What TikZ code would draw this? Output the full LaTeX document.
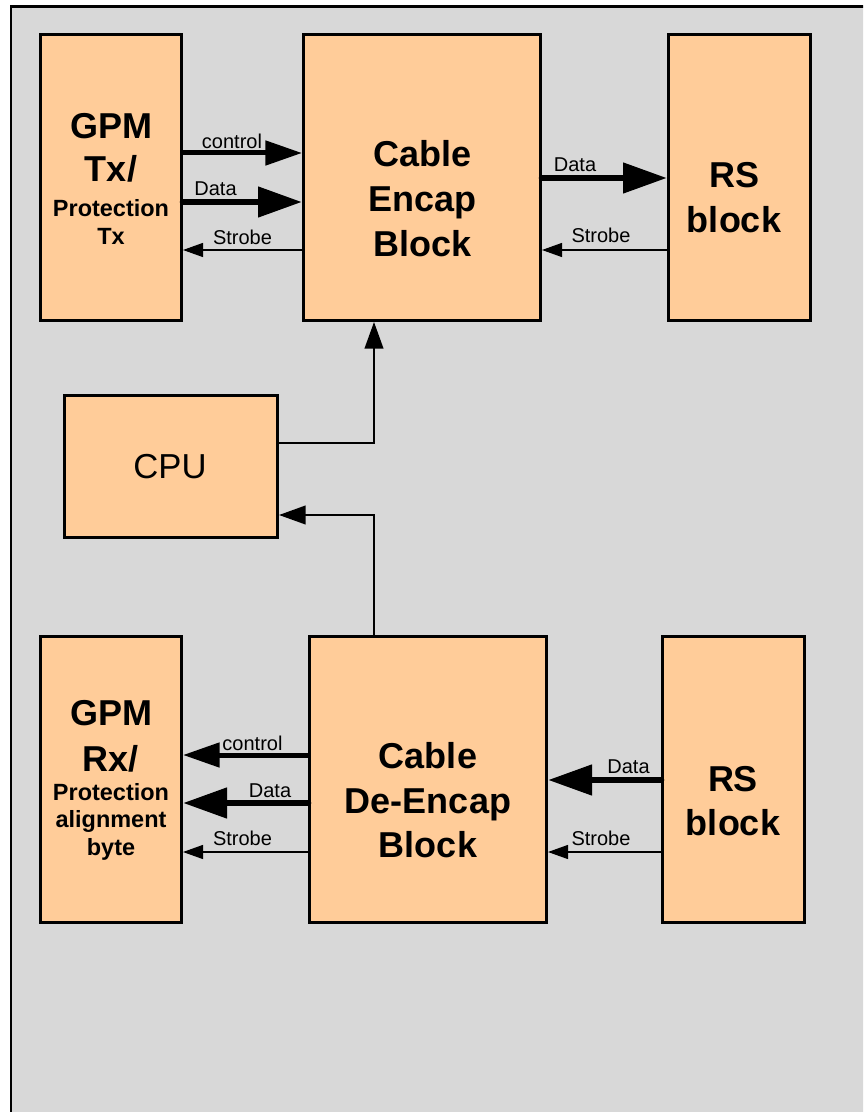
\documentclass[tikz,border=0pt]{standalone}
\usepackage{fontspec}
\setmainfont{Liberation Sans}
\usetikzlibrary{arrows.meta}
\definecolor{peach}{HTML}{FFCC99}
\definecolor{bggray}{HTML}{D8D8D8}
\tikzset{
  blockbox/.style={draw=black, line width=2.25pt, fill=peach, inner sep=0pt, rectangle},
  bigtxt/.style={anchor=base, inner sep=0pt, font=\fontsize{27}{32}\selectfont\bfseries},
  midtxt/.style={anchor=base, inner sep=0pt, font=\fontsize{17.6}{21}\selectfont\bfseries},
  lbl/.style={anchor=base, inner sep=0pt, font=\fontsize{15}{18}\selectfont},
  ctlarrow/.style={line width=3.75pt, line cap=round, -{Triangle[length=27.5pt,width=18pt]}},
  datarrow/.style={line width=5pt, line cap=round, -{Triangle[length=33pt,width=22pt]}},
  strarrow/.style={line width=0.9pt, -{Triangle[length=15pt,width=10.5pt]}},
  cpuarrow/.style={line width=1.5pt, -{Triangle[length=20pt,width=14pt]}},
  cpuline/.style={line width=1.5pt}
}
\begin{document}
\begin{tikzpicture}[x=0.75pt, y=-0.75pt]
\useasboundingbox (0,0) rectangle (863,1112);
\fill[white] (0,0) rectangle (863,1112);
\begin{scope}
\clip (0,0) rectangle (863,1112);
\draw[line width=2pt, fill=bggray] (11,6.5) rectangle (880,1130);
\end{scope}

% boxes
\node[blockbox, minimum width=105.75pt, minimum height=214.5pt] (gtx) at (111,177.5) {};
\node[blockbox, minimum width=177.75pt, minimum height=214.5pt] (enc) at (422,177.5) {};
\node[blockbox, minimum width=106.5pt, minimum height=214.5pt] (rst) at (739.5,177.5) {};
\node[blockbox, minimum width=159.75pt, minimum height=106.5pt] (cpu) at (171,466.5) {};
\node[blockbox, minimum width=105.75pt, minimum height=214.5pt] (grx) at (111,779.5) {};
\node[blockbox, minimum width=177.75pt, minimum height=214.5pt] (dec) at (428,779.5) {};
\node[blockbox, minimum width=106.5pt, minimum height=214.5pt] (rsb) at (733.5,779.5) {};

% box texts
\node[bigtxt] (gtx1) at (111,138.3) {GPM};
\node[bigtxt] (gtx2) at (111,181.7) {Tx/};
\node[midtxt] (gtx3) at (111,216.7) {Protection};
\node[midtxt] (gtx4) at (111,245) {Tx};

\node[bigtxt] (enc1) at (422.5,166.7) {Cable};
\node[bigtxt] (enc2) at (422.5,211.7) {Encap};
\node[bigtxt] (enc3) at (422.5,256.7) {Block};

\node[bigtxt] (rst1) at (734,188) {RS};
\node[bigtxt] (rst2) at (734,233) {block};

\node[anchor=base, inner sep=0pt, font=\fontsize{26}{30}\selectfont] (cpu1) at (170,478) {CPU};

\node[bigtxt] (grx1) at (111,725) {GPM};
\node[bigtxt] (grx2) at (111,771.7) {Rx/};
\node[midtxt] (grx3) at (111,800.7) {Protection};
\node[midtxt] (grx4) at (111,827.7) {alignment};
\node[midtxt] (grx5) at (111,855) {byte};

\node[bigtxt] (dec1) at (428,768) {Cable};
\node[bigtxt] (dec2) at (428,813) {De-Encap};
\node[bigtxt] (dec3) at (428,857) {Block};

\node[bigtxt] (rsb1) at (733,791) {RS};
\node[bigtxt] (rsb2) at (733,835) {block};

% helper coordinates for connector rows
\coordinate (r1) at (0,153);
\coordinate (r2) at (0,202);
\coordinate (r3) at (0,250);
\coordinate (r4) at (0,178);
\coordinate (c1) at (374,443);
\coordinate (c2) at (374,515);
\coordinate (r5) at (0,755);
\coordinate (r6) at (0,803);
\coordinate (r7) at (0,852);
\coordinate (r8) at (0,780);

% top connectors
\draw[ctlarrow] (gtx.east |- r1) -- (enc.west |- r1);
\draw[datarrow] (gtx.east |- r2) -- (enc.west |- r2);
\draw[strarrow] (enc.west |- r3) -- (gtx.east |- r3);
\draw[datarrow] (enc.east |- r4) -- (rst.west |- r4);
\draw[strarrow] (rst.west |- r3) -- (enc.east |- r3);

% CPU connectors
\draw[cpuarrow] (cpu.east |- c1) -| (enc.south -| c1);
\draw[cpuarrow] (dec.north -| c2) |- (cpu.east |- c2);

% bottom connectors
\draw[ctlarrow] (dec.west |- r5) -- (grx.east |- r5);
\draw[datarrow] (dec.west |- r6) -- (grx.east |- r6);
\draw[strarrow] (dec.west |- r7) -- (grx.east |- r7);
\draw[datarrow] (rsb.west |- r8) -- (dec.east |- r8);
\draw[strarrow] (rsb.west |- r7) -- (dec.east |- r7);

% connector labels
\node[lbl] (l1) at (232,148.3) {control};
\node[lbl] (l2) at (215.5,196) {Data};
\node[lbl] (l3) at (242.5,244.3) {Strobe};
\node[lbl] (l4) at (575,172) {Data};
\node[lbl] (l5) at (601,243) {Strobe};
\node[lbl] (l6) at (252.5,750) {control};
\node[lbl] (l7) at (270,797.7) {Data};
\node[lbl] (l8) at (242.5,845) {Strobe};
\node[lbl] (l9) at (628.5,773) {Data};
\node[lbl] (l10) at (601,845) {Strobe};
\end{tikzpicture}
\end{document}
